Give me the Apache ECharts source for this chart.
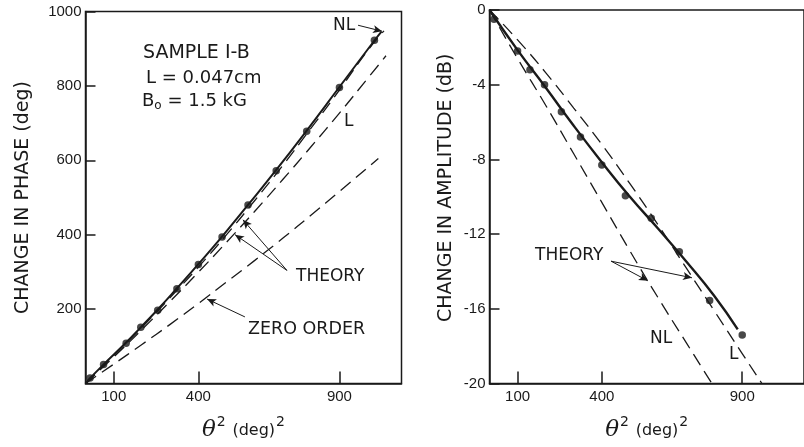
<!DOCTYPE html>
<html>
<head>
<meta charset="utf-8">
<script src="https://cdn.jsdelivr.net/npm/echarts@6/dist/echarts.min.js"></script>
<style>
html,body{margin:0;padding:0;background:#fff;}
#chart{width:804px;height:447px;}
</style>
</head>
<body>
<div id="chart"></div>
<script>
// ---- Left panel: change in phase (deg) vs theta^2 ----
const phaseDotX = [16, 64, 144, 196, 256, 324, 400, 484, 576, 676, 784, 900, 1024];
const phaseDotY = [15, 51, 108, 151, 197, 255, 320, 394, 480, 572, 678, 796, 923];
const phaseFitX = [0, 16, 64, 144, 196, 256, 324, 400, 484, 576, 676, 784, 900, 1024, 1049];
const phaseFitY = [0, 14, 51, 110, 151, 199, 256, 321, 395, 480, 574, 680, 797, 922, 946];
const phaseNLX = [0, 100, 200, 300, 400, 500, 600, 700, 800, 900, 1000, 1058];
const phaseNLY = [0, 75, 151, 231, 313, 400, 492, 587, 687, 789, 895, 948];
const phaseLX = [0, 100, 200, 300, 400, 500, 600, 700, 800, 900, 1000, 1065];
const phaseLY = [0, 71, 145, 221, 299, 380, 463, 549, 637, 727, 820, 881];
const phaseZeroX = [0, 100, 200, 300, 400, 500, 600, 700, 800, 900, 1038];
const phaseZeroY = [0, 52, 105, 159, 215, 273, 331, 391, 453, 516, 605];
const phaseYTicks = [200, 400, 600, 800, 1000];

// ---- Right panel: change in amplitude (dB) vs theta^2 ----
const ampDotX = [16, 100, 144, 196, 256, 324, 400, 484, 576, 676, 784, 900];
const ampDotY = [-0.5, -2.2, -3.2, -4.0, -5.45, -6.8, -8.3, -9.95, -11.15, -12.95, -15.55, -17.4];
const ampFitX = [0, 100, 200, 300, 400, 500, 600, 700, 800, 884];
const ampFitY = [0, -2.15, -4.15, -6.2, -8.15, -10.0, -11.7, -13.45, -15.3, -17.1];
const ampNLX = [0, 100, 200, 300, 400, 500, 600, 700, 792];
const ampNLY = [0, -2.6, -5.1, -7.7, -10.3, -12.9, -15.4, -17.8, -20];
const ampLX = [0, 100, 200, 300, 400, 500, 600, 700, 800, 900, 970];
const ampLY = [0, -1.6, -3.35, -5.25, -7.2, -9.3, -11.5, -13.8, -16.1, -18.4, -20];

const xTicks = [100, 400, 900];

// annotation arrows (data coordinates)
const phaseArrows = [
  [[966, 963], [1051, 947]],
  [[714, 304], [558, 440]],
  [[714, 304], [530, 400]],
  [[565, 179], [431, 227]]
];
const ampArrows = [
  [[433, -13.45], [564, -14.5]],
  [[433, -13.45], [721, -14.34]]
];

const INK = '#1a1a1a';
const FONT = "'DejaVu Sans', 'Liberation Sans', sans-serif";
const NUMFONT = "'Liberation Sans', Arial, sans-serif";

function pairs(xs, ys) { return xs.map((x, i) => [x, ys[i]]); }
function arrowData(list) {
  return list.map(a => [{ coord: a[0] }, { coord: a[1] }]);
}

const chart = echarts.init(document.getElementById('chart'), null, { renderer: 'canvas' });

const xName = '{t|θ}{s|2}  {d|(deg)}{s|2}';
const xNameStyle = {
  color: INK,
  rich: {
    t: { fontSize: 23, fontStyle: 'italic', fontFamily: "'DejaVu Serif', serif", color: INK },
    s: { fontSize: 14, fontFamily: FONT, padding: [0, 0, 16, 1], color: INK },
    d: { fontSize: 16, fontFamily: FONT, color: INK }
  }
};

function xAxisCfg(gi) {
  return {
    type: 'value', gridIndex: gi, min: 0, max: 1120,
    name: xName, nameLocation: 'middle', nameGap: 32, nameTextStyle: xNameStyle,
    axisLine: { show: true, onZero: false, lineStyle: { color: INK, width: 1.5 } },
    axisTick: { show: true, inside: true, length: 12, customValues: xTicks, lineStyle: { color: INK, width: 1.5 } },
    axisLabel: { show: true, customValues: xTicks, color: INK, fontSize: 15, fontFamily: NUMFONT, margin: 6 },
    splitLine: { show: false }
  };
}

const dashed = { color: INK, width: 1.3, type: [13, 7] };

const option = {
  backgroundColor: '#fff',
  animation: false,
  grid: [
    { left: 85.5, top: 11.5, width: 316, height: 375.5, show: true, borderColor: INK, borderWidth: 1.5, backgroundColor: 'transparent' },
    { left: 489.5, top: 10, width: 319.5, height: 377, show: true, borderColor: INK, borderWidth: 1.5, backgroundColor: 'transparent' }
  ],
  xAxis: [xAxisCfg(0), xAxisCfg(1)],
  yAxis: [
    {
      type: 'value', gridIndex: 0, min: 0, max: 1000, interval: 200,
      name: 'CHANGE IN PHASE (deg)', nameLocation: 'middle', nameGap: 53,
      nameTextStyle: { color: INK, fontSize: 19, fontFamily: FONT },
      axisLine: { show: true, onZero: false, lineStyle: { color: INK, width: 1.5 } },
      axisTick: { show: true, inside: true, length: 10, customValues: phaseYTicks, lineStyle: { color: INK, width: 1.5 } },
      axisLabel: { show: true, customValues: phaseYTicks, formatter: v => String(v), color: INK, fontSize: 15, fontFamily: NUMFONT, margin: 4 },
      splitLine: { show: false }
    },
    {
      type: 'value', gridIndex: 1, min: -20, max: 0, interval: 4,
      name: 'CHANGE IN AMPLITUDE (dB)', nameLocation: 'middle', nameGap: 34,
      nameTextStyle: { color: INK, fontSize: 19, fontFamily: FONT, padding: [0, 0, 0, 18] },
      axisLine: { show: true, onZero: false, lineStyle: { color: INK, width: 1.5 } },
      axisTick: { show: true, inside: true, length: 10, lineStyle: { color: INK, width: 1.5 } },
      axisLabel: { show: true, formatter: v => String(v), color: INK, fontSize: 15, fontFamily: NUMFONT, margin: 4 },
      splitLine: { show: false }
    }
  ],
  series: [
    { type: 'line', xAxisIndex: 0, yAxisIndex: 0, data: pairs(phaseZeroX, phaseZeroY), smooth: true, showSymbol: false, lineStyle: dashed,
      markLine: { silent: true, symbol: ['none', 'arrow'], symbolSize: [6, 9], label: { show: false },
        lineStyle: { color: INK, width: 1, type: 'solid' }, data: arrowData(phaseArrows) } },
    { type: 'line', xAxisIndex: 0, yAxisIndex: 0, data: pairs(phaseLX, phaseLY), smooth: true, showSymbol: false, lineStyle: dashed },
    { type: 'line', xAxisIndex: 0, yAxisIndex: 0, data: pairs(phaseNLX, phaseNLY), smooth: true, showSymbol: false, lineStyle: dashed },
    { type: 'line', xAxisIndex: 0, yAxisIndex: 0, data: pairs(phaseFitX, phaseFitY), smooth: true, showSymbol: false, lineStyle: { color: INK, width: 2 } },
    { type: 'scatter', xAxisIndex: 0, yAxisIndex: 0, data: pairs(phaseDotX, phaseDotY), symbolSize: 7.5, itemStyle: { color: INK } },

    { type: 'line', xAxisIndex: 1, yAxisIndex: 1, data: pairs(ampNLX, ampNLY), smooth: true, showSymbol: false, lineStyle: dashed,
      markLine: { silent: true, symbol: ['none', 'arrow'], symbolSize: [6, 9], label: { show: false },
        lineStyle: { color: INK, width: 1, type: 'solid' }, data: arrowData(ampArrows) } },
    { type: 'line', xAxisIndex: 1, yAxisIndex: 1, data: pairs(ampLX, ampLY), smooth: true, showSymbol: false, lineStyle: dashed },
    { type: 'line', xAxisIndex: 1, yAxisIndex: 1, data: pairs(ampFitX, ampFitY), smooth: true, showSymbol: false, lineStyle: { color: INK, width: 2.4 } },
    { type: 'scatter', xAxisIndex: 1, yAxisIndex: 1, data: pairs(ampDotX, ampDotY), symbolSize: 7.5, itemStyle: { color: INK } }
  ],
  graphic: [
    { type: 'text', left: 143, top: 44, style: { text: 'SAMPLE I-B', fontSize: 19, fontFamily: FONT, fill: INK } },
    { type: 'text', left: 146, top: 69, style: { text: 'L = 0.047cm', fontSize: 18, fontFamily: FONT, fill: INK } },
    { type: 'text', left: 142, top: 92, style: { text: '{a|B}{b|o}{a| = 1.5 kG}', fill: INK,
        rich: { a: { fontSize: 18, fontFamily: FONT, fill: INK }, b: { fontSize: 12, fontFamily: FONT, padding: [10, 0, 0, 0], fill: INK } } } },
    { type: 'text', left: 333, top: 17, style: { text: 'NL', fontSize: 17, fontFamily: FONT, fill: INK } },
    { type: 'text', left: 344, top: 113, style: { text: 'L', fontSize: 17, fontFamily: FONT, fill: INK } },
    { type: 'text', left: 296, top: 268, style: { text: 'THEORY', fontSize: 17, fontFamily: FONT, fill: INK } },
    { type: 'text', left: 248, top: 320, style: { text: 'ZERO ORDER', fontSize: 17.5, fontFamily: FONT, fill: INK } },
    { type: 'text', left: 535, top: 247, style: { text: 'THEORY', fontSize: 17, fontFamily: FONT, fill: INK } },
    { type: 'text', left: 650, top: 330, style: { text: 'NL', fontSize: 17, fontFamily: FONT, fill: INK } },
    { type: 'text', left: 729, top: 346, style: { text: 'L', fontSize: 17, fontFamily: FONT, fill: INK } }
  ]
};

chart.setOption(option);
</script>
</body>
</html>
